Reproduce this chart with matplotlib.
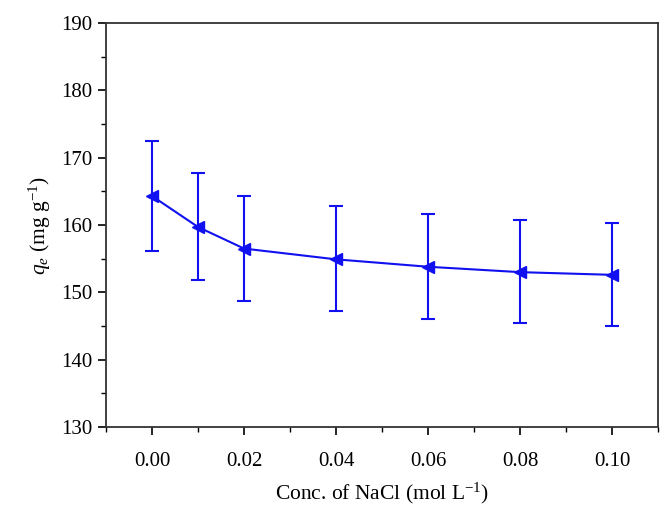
import matplotlib
matplotlib.use("Agg")
import matplotlib.pyplot as plt
from matplotlib.ticker import MultipleLocator

conc = [0.00, 0.01, 0.02, 0.04, 0.06, 0.08, 0.10]
qe = [164.3, 159.7, 156.5, 154.9, 153.8, 153.0, 152.6]
err_upper = [172.5, 167.8, 164.3, 162.8, 161.6, 160.7, 160.3]
err_lower = [156.1, 151.8, 148.7, 147.2, 146.1, 145.4, 145.0]

plt.rcParams["font.family"] = "Liberation Serif"
plt.rcParams["mathtext.fontset"] = "custom"
plt.rcParams["mathtext.rm"] = "Liberation Serif"
plt.rcParams["mathtext.it"] = "Liberation Serif:italic"

yerr = [[q - lo for q, lo in zip(qe, err_lower)],
        [hi - q for q, hi in zip(qe, err_upper)]]

fig = plt.figure(figsize=(6.67, 5.12), dpi=100)
ax = fig.add_axes([0.159, 0.166, 0.828, 0.789])

blue = "#1010f0"
ax.errorbar(conc, qe, yerr=yerr, color=blue, marker="<", markersize=9,
            linewidth=1.5, elinewidth=1.5, capsize=5, capthick=1.5)

ax.set_xlim(-0.01, 0.11)
ax.set_ylim(130, 190)
ax.xaxis.set_major_locator(MultipleLocator(0.02))
ax.xaxis.set_minor_locator(MultipleLocator(0.01))
ax.yaxis.set_major_locator(MultipleLocator(10))
ax.yaxis.set_minor_locator(MultipleLocator(5))
ax.xaxis.set_major_formatter(plt.FormatStrFormatter("%.2f"))

ax.tick_params(which="major", direction="out", length=6, width=1.2, labelsize=15)
ax.tick_params(axis="x", which="major", pad=12)
ax.tick_params(axis="y", which="major", pad=4)
ax.tick_params(which="minor", direction="out", length=3.5, width=1.0)
for s in ax.spines.values():
    s.set_linewidth(1.3)
    s.set_color("#333333")

ax.set_xlabel("Conc. of NaCl (mol L$^{-1}$)", fontsize=15.5, labelpad=7)
ax.set_ylabel("$q_e$ (mg g$^{-1}$)", fontsize=15.5, labelpad=6)

fig.savefig("out.png", dpi=100)
